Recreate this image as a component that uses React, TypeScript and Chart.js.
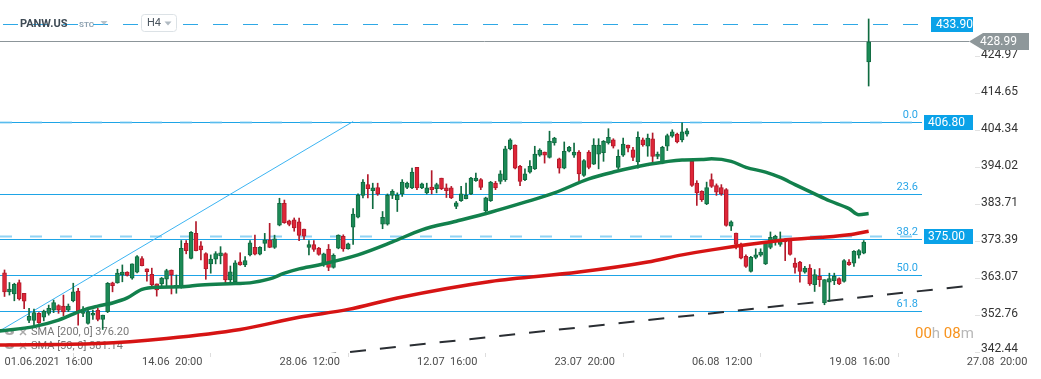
import React, { useEffect, useRef } from 'react';
import { Chart, registerables } from 'chart.js';

Chart.register(...registerables);

// ---------- DATA ----------
const symbol = 'PANW.US';
const symbolType = 'STC';
const interval = 'H4';

// x tick positions are candle indices (H4 candles, 01.06.2021 16:00 = 0)
const xTickIndex = [0, 28, 56, 84, 112, 140, 168, 196];
const xTickLabels = ['01.06.2021  16:00', '14.06  20:00', '28.06  12:00', '12.07  16:00', '23.07  20:00', '06.08  12:00', '19.08  16:00', '27.08  20:00'];
const yTickValues = [342.44, 352.76, 363.07, 373.39, 383.71, 394.02, 404.34, 414.65, 424.97];

const openP = [
  364.6, 359.3, 358.7, 361.9, 358.9, 351.3, 351.3, 353.3, 352.2, 353.3,
  354.2, 355.5, 355.3, 354.2, 356.8, 359.5, 353.3, 350.5, 352.8, 354.2,
  351.6, 353.8, 361.8, 361.8, 364.0, 364.8, 363.1, 364.8, 368.6, 365.7,
  364.2, 361.5, 361.5, 362.8, 365.4, 360.8, 360.7, 372.8, 368.6, 375.6,
  372.1, 370.0, 367.1, 368.4, 369.3, 370.0, 362.6, 362.1, 367.7, 366.8,
  369.6, 371.7, 369.8, 372.8, 373.8, 371.7, 377.9, 384.0, 379.1, 379.4,
  378.8, 376.8, 371.7, 372.5, 371.5, 367.1, 371.2, 366.1, 371.5, 374.8,
  371.3, 377.3, 380.1, 386.2, 389.2, 387.5, 388.4, 378.2, 378.2, 386.2,
  385.0, 386.6, 388.4, 388.3, 394.0, 388.3, 386.9, 388.5, 388.1, 391.0,
  388.3, 388.3, 383.1, 384.7, 385.3, 386.6, 390.3, 390.6, 381.9, 384.7,
  389.6, 390.1, 390.6, 399.2, 400.2, 394.3, 390.6, 392.7, 393.6, 397.4,
  398.3, 396.8, 400.8, 396.4, 393.8, 398.5, 397.4, 398.3, 391.8, 398.3,
  394.9, 397.7, 398.1, 400.8, 401.7, 394.0, 397.4, 400.2, 398.9, 395.5,
  401.7, 399.9, 402.0, 397.1, 395.2, 399.9, 402.7, 403.3, 401.7, 403.3,
  395.7, 389.6, 387.3, 383.8, 390.6, 388.9, 388.4, 387.8, 377.6, 375.7,
  372.6, 369.2, 365.0, 368.9, 369.5, 367.1, 371.7, 373.9, 372.5, 373.8,
  373.6, 367.3, 367.6, 364.8, 365.9, 361.3, 363.6, 356.2, 362.0, 362.4,
  363.0, 362.2, 367.6, 367.3, 369.5, 370.1, 423.4,
];
const highP = [
  365.4, 361.9, 361.7, 362.6, 358.9, 354.7, 354.5, 353.5, 354.2, 355.6,
  357.0, 355.7, 358.4, 355.9, 361.7, 360.3, 355.2, 354.2, 354.2, 354.7,
  352.8, 361.9, 362.0, 365.6, 366.8, 364.9, 367.1, 369.4, 369.1, 365.7,
  365.9, 361.5, 363.3, 365.6, 365.4, 364.0, 373.6, 373.6, 376.1, 378.9,
  373.3, 370.2, 369.6, 370.5, 371.9, 370.2, 366.5, 368.0, 370.2, 369.1,
  373.6, 375.1, 371.9, 375.6, 378.4, 375.1, 385.4, 384.9, 379.3, 379.9,
  379.9, 376.8, 373.6, 373.6, 371.7, 370.1, 372.5, 369.9, 375.2, 375.2,
  372.9, 382.5, 386.6, 390.6, 392.0, 389.6, 389.6, 381.7, 386.6, 387.8,
  386.9, 390.6, 389.9, 393.8, 394.0, 389.6, 389.6, 393.1, 389.6, 391.0,
  389.4, 388.7, 384.5, 388.7, 389.6, 391.2, 392.4, 390.9, 385.7, 390.1,
  390.1, 393.1, 399.9, 402.0, 400.3, 394.6, 393.6, 395.9, 399.9, 399.2,
  398.3, 404.1, 402.4, 396.6, 401.1, 399.9, 400.8, 398.7, 396.2, 398.7,
  402.0, 402.0, 401.5, 404.8, 402.0, 398.9, 402.2, 400.2, 399.6, 403.9,
  402.2, 403.3, 403.6, 398.3, 399.9, 403.3, 404.5, 403.6, 406.4, 404.8,
  395.9, 390.3, 387.5, 389.9, 392.2, 389.4, 389.2, 388.1, 379.1, 375.7,
  372.9, 369.6, 369.2, 371.3, 371.3, 373.4, 376.0, 375.1, 376.0, 374.1,
  373.9, 368.7, 367.8, 366.4, 366.9, 365.5, 365.8, 362.7, 364.5, 364.5,
  363.2, 368.3, 368.3, 370.8, 371.1, 373.6, 435.4,
];
const lowP = [
  358.0, 358.4, 356.8, 357.0, 354.6, 350.7, 349.6, 350.5, 351.2, 352.8,
  353.5, 353.3, 352.6, 353.8, 356.5, 350.0, 352.4, 350.3, 351.6, 351.2,
  348.8, 353.5, 359.3, 361.7, 362.1, 363.7, 362.8, 364.6, 366.5, 362.3,
  361.0, 358.1, 360.7, 360.7, 358.7, 358.9, 360.3, 369.9, 368.5, 370.7,
  368.2, 362.8, 364.5, 367.1, 367.1, 361.5, 361.5, 361.9, 366.7, 366.3,
  369.3, 369.6, 369.6, 370.8, 371.6, 371.4, 377.7, 378.4, 377.7, 376.2,
  373.6, 373.9, 369.6, 370.6, 369.5, 366.4, 365.2, 365.9, 371.3, 370.6,
  371.2, 372.5, 379.9, 385.5, 385.5, 382.5, 386.2, 376.9, 377.9, 385.3,
  381.7, 385.9, 388.1, 388.1, 387.8, 388.1, 386.6, 386.6, 386.9, 387.8,
  385.6, 385.3, 382.5, 384.5, 385.2, 386.4, 390.1, 387.8, 380.8, 384.5,
  387.8, 389.4, 390.1, 398.9, 393.6, 388.9, 390.3, 392.4, 393.4, 397.1,
  395.2, 396.6, 400.2, 392.4, 393.6, 398.3, 396.8, 390.1, 391.5, 393.6,
  394.8, 393.6, 395.7, 400.5, 399.4, 393.6, 397.1, 398.3, 395.9, 393.8,
  399.9, 397.1, 395.5, 396.4, 395.0, 398.7, 402.4, 400.8, 401.1, 402.7,
  388.7, 383.4, 384.5, 383.6, 388.4, 386.2, 386.2, 377.6, 376.4, 371.3,
  368.5, 366.1, 364.8, 368.5, 369.2, 366.9, 371.3, 372.3, 372.0, 368.0,
  369.5, 364.5, 362.0, 364.5, 361.1, 359.4, 360.8, 355.7, 356.6, 361.3,
  361.3, 362.0, 366.7, 366.4, 368.7, 369.9, 416.7,
];
const closeP = [
  359.3, 360.1, 361.4, 357.3, 356.7, 352.5, 353.5, 350.7, 353.9, 354.7,
  356.3, 354.2, 353.7, 355.3, 359.3, 353.8, 353.8, 353.8, 353.3, 351.6,
  352.8, 361.7, 361.0, 364.5, 364.8, 363.9, 367.1, 369.1, 366.6, 364.9,
  361.2, 359.8, 363.1, 365.2, 364.0, 361.0, 371.4, 370.8, 375.9, 370.8,
  371.0, 365.7, 368.4, 370.0, 370.2, 362.6, 364.9, 367.4, 366.8, 368.0,
  373.0, 369.8, 371.7, 373.8, 371.7, 374.1, 384.0, 378.6, 378.1, 377.1,
  375.0, 374.8, 372.5, 371.1, 369.7, 369.9, 366.1, 369.5, 375.1, 371.3,
  372.7, 381.0, 386.2, 389.9, 388.1, 388.3, 386.6, 380.1, 386.2, 387.3,
  386.2, 389.9, 389.6, 392.7, 388.3, 389.4, 388.3, 387.8, 389.2, 388.1,
  387.5, 385.5, 384.1, 386.6, 386.2, 391.0, 391.0, 388.4, 385.5, 389.9,
  388.3, 392.2, 399.2, 401.7, 393.8, 390.1, 392.2, 394.3, 397.7, 398.8,
  397.4, 401.3, 402.2, 393.8, 398.5, 399.6, 398.3, 392.2, 395.9, 394.0,
  400.2, 400.2, 401.3, 402.4, 399.9, 397.1, 400.5, 399.4, 396.8, 402.4,
  400.3, 402.2, 397.1, 397.7, 399.6, 402.9, 403.9, 401.1, 403.9, 404.2,
  389.0, 386.9, 385.0, 388.4, 388.7, 387.1, 386.6, 377.8, 378.8, 372.5,
  368.7, 366.4, 368.9, 369.6, 370.4, 373.2, 374.5, 374.8, 374.1, 373.2,
  369.7, 366.1, 365.0, 365.9, 361.5, 364.1, 362.7, 362.7, 363.0, 363.6,
  361.5, 368.0, 366.9, 370.6, 370.8, 373.2, 428.99,
];

// moving averages: [candle index, value]
const sma50Pts = [
  [-1, 348.4], [6, 349.6], [11, 351.4], [13, 352.5], [16, 354.2], [19, 355.3], [22, 356.2],
  [25, 357.6], [28, 360.0], [31, 360.6], [36, 360.7], [40, 361.2], [47, 361.6], [50, 361.8],
  [54, 362.9], [57, 364.5], [60, 365.7], [64, 366.8], [72, 369.6], [79, 373.2], [85, 376.6],
  [92, 379.0], [99, 381.5], [106, 384.3], [112, 386.9], [119, 390.8], [124, 392.7], [131, 394.8],
  [138, 396.1], [142, 396.2], [144, 396.4], [148, 395.7], [151, 394.0], [155, 392.7], [158, 391.2],
  [161, 389.2], [165, 386.6], [168, 384.7], [172, 382.5], [174, 380.8], [176, 381.14],
];
const sma200Pts = [
  [-1, 344.5], [19, 344.9], [33, 346.3], [48, 348.8], [60, 352.2], [70, 354.4], [80, 357.6],
  [99, 362.2], [117, 364.8], [131, 367.6], [138, 369.6], [144, 371.0], [158, 373.6], [172, 375.2],
  [176, 376.2],
];

// drawing tools
const riseLine = [[-0.92, 348.46], [71, 406.8]];
const supportLine = [[40, 338.1], [200, 361.5]];
const fibLabels = ['0.0', '23.6', '38.2', '50.0', '61.8'];
const fibValues = [406.8, 386.6, 374.0, 364.0, 354.0];
const tagValues = [433.9, 406.8, 375.0];
const lastPrice = 428.99;
const legendRows = ['SMA [200, 0] 376.20', 'SMA [50, 0] 381.14'];
const countdownParts = ['00', 'h', ' 08', 'm'];

// ---------- STYLES ----------
const FONT = 'Roboto, "Noto Sans", sans-serif';
const BLUE = '#1ea4e6';
const GREEN_FILL = '#1b8a56';
const GREEN_EDGE = '#0f6b40';
const RED_FILL = '#de2638';
const RED_EDGE = '#b3192a';
const tagWidths = [42, 49, 49];

function fmt(v: number) {
  return v.toFixed(2);
}

const annotations = {
  id: 'annotations',
  beforeDatasetsDraw(chart: any) {
    const { ctx, chartArea: a, scales } = chart;
    const y = scales.y;
    ctx.save();

    // legend rows (lines draw over them)
    ctx.font = `11px ${FONT}`;
    ctx.textBaseline = 'middle';
    legendRows.forEach((txt, k) => {
      const ly = 332 + k * 14;
      ctx.fillStyle = '#a9a9a9';
      ctx.beginPath();
      ctx.ellipse(a.left + 9.5, ly, 4.5, 3, 0, 0, Math.PI * 2);
      ctx.fill();
      ctx.fillStyle = '#ffffff';
      ctx.beginPath();
      ctx.arc(a.left + 9.5, ly, 1.3, 0, Math.PI * 2);
      ctx.fill();
      ctx.strokeStyle = '#a9a9a9';
      ctx.lineWidth = 1.5;
      ctx.beginPath();
      ctx.moveTo(a.left + 20, ly - 3);
      ctx.lineTo(a.left + 26, ly + 3);
      ctx.moveTo(a.left + 26, ly - 3);
      ctx.lineTo(a.left + 20, ly + 3);
      ctx.stroke();
      ctx.fillStyle = '#777777';
      ctx.textAlign = 'left';
      ctx.fillText(txt, a.left + 31, ly);
    });

    // fibonacci lines
    const fibEnd = a.right - 53;
    ctx.setLineDash([]);
    ctx.lineWidth = 1;
    ctx.strokeStyle = BLUE;
    ctx.font = `11px ${FONT}`;
    ctx.textAlign = 'right';
    ctx.textBaseline = 'alphabetic';
    fibValues.forEach((v, k) => {
      const py = Math.round(y.getPixelForValue(v)) + 0.5;
      ctx.beginPath();
      ctx.moveTo(a.left, py);
      ctx.lineTo(fibEnd, py);
      ctx.stroke();
      ctx.fillStyle = '#2aa6e8';
      ctx.fillText(fibLabels[k], fibEnd - 4, py - 4.5);
    });

    // last price line
    const lp = Math.floor(y.getPixelForValue(lastPrice)) + 0.5;
    ctx.strokeStyle = '#8c9599';
    ctx.beginPath();
    ctx.moveTo(a.left, lp);
    ctx.lineTo(a.right - 6, lp);
    ctx.stroke();

    // dashed price level lines
    tagValues.forEach((v, k) => {
      const py = Math.round(y.getPixelForValue(v)) + 0.5;
      const left = a.right - 2 - tagWidths[k];
      if (k === 0) {
        ctx.strokeStyle = '#2ea8e6';
        ctx.lineWidth = 1;
        ctx.setLineDash([15, 15]);
        ctx.lineDashOffset = -3;
      } else {
        ctx.strokeStyle = 'rgba(110,196,240,0.75)';
        ctx.lineWidth = 2;
        ctx.setLineDash([12, 18]);
        ctx.lineDashOffset = 0;
      }
      ctx.beginPath();
      ctx.moveTo(a.left, py);
      ctx.lineTo(left - 1, py);
      ctx.stroke();
    });
    ctx.setLineDash([]);
    ctx.restore();
  },
  afterDraw(chart: any) {
    const { ctx, chartArea: a, scales } = chart;
    const y = scales.y;
    ctx.save();

    // y tick labels
    ctx.font = `12px ${FONT}`;
    ctx.fillStyle = '#333333';
    ctx.textAlign = 'left';
    ctx.textBaseline = 'middle';
    yTickValues.forEach((v) => {
      const py = Math.min(y.getPixelForValue(v) - 1, a.bottom - 4.5);
      ctx.fillText(fmt(v), a.right + 6, py);
    });

    // level tags
    tagValues.forEach((v, k) => {
      const py = y.getPixelForValue(v);
      const right = a.right - 2;
      const left = right - tagWidths[k];
      ctx.fillStyle = '#0aa2e8';
      ctx.fillRect(left, Math.round(py) - 7, right - left, 15);
      ctx.fillStyle = '#ffffff';
      ctx.font = `12px ${FONT}`;
      ctx.textAlign = 'left';
      ctx.fillText(fmt(v), left + (k === 0 ? 5 : 4), Math.round(py) + 0.5);
    });

    // current price tag
    const lp = Math.floor(y.getPixelForValue(lastPrice)) + 0.5;
    ctx.fillStyle = '#8e979a';
    ctx.beginPath();
    ctx.moveTo(a.right - 6, lp);
    ctx.lineTo(a.right + 8, lp - 8.5);
    ctx.lineTo(a.right + 54, lp - 8.5);
    ctx.lineTo(a.right + 54, lp + 8.5);
    ctx.lineTo(a.right + 8, lp + 8.5);
    ctx.closePath();
    ctx.fill();
    ctx.fillStyle = '#ffffff';
    ctx.font = `12px ${FONT}`;
    ctx.fillText(fmt(lastPrice), a.right + 5, lp);

    // countdown
    ctx.font = `15px ${FONT}`;
    let cx = a.right - 60;
    countdownParts.forEach((p, k) => {
      ctx.fillStyle = k % 2 === 0 ? '#f7931e' : '#b8b8b8';
      ctx.fillText(p, cx, 334);
      cx += ctx.measureText(p).width;
    });

    // header
    ctx.font = `bold 11px ${FONT}`;
    ctx.fillStyle = '#3e4a54';
    ctx.fillText(symbol, 20, 24);
    ctx.font = `bold 8px ${FONT}`;
    ctx.fillStyle = '#8ea2b1';
    ctx.fillText(symbolType, 79, 24.5);
    ctx.fillStyle = '#b8c3cb';
    ctx.beginPath();
    ctx.moveTo(100.5, 21);
    ctx.lineTo(107.5, 21);
    ctx.lineTo(104, 25);
    ctx.closePath();
    ctx.fill();
    // interval box
    ctx.fillStyle = '#ffffff';
    ctx.strokeStyle = '#dce2e6';
    ctx.lineWidth = 1;
    ctx.beginPath();
    (ctx as any).roundRect(141.5, 14.5, 35, 17, 3);
    ctx.fill();
    ctx.stroke();
    ctx.font = `11px ${FONT}`;
    ctx.fillStyle = '#4a545e';
    ctx.fillText(interval, 147, 23.5);
    ctx.fillStyle = '#b0bac2';
    ctx.beginPath();
    ctx.moveTo(164.5, 21.5);
    ctx.lineTo(171.5, 21.5);
    ctx.lineTo(168, 25.5);
    ctx.closePath();
    ctx.fill();

    ctx.restore();
  },
};

export default function App() {
  const ref = useRef<HTMLCanvasElement | null>(null);

  useEffect(() => {
    if (!ref.current) return;
    const idx = openP.map((_, i) => i);
    const up = idx.map((i) => closeP[i] >= openP[i]);
    const chart = new Chart(ref.current, {
      type: 'bar',
      data: {
        datasets: [
          {
            type: 'line',
            label: 'SMA 50',
            data: sma50Pts.map(([x, v]) => ({ x, y: v })),
            borderColor: '#12804c',
            borderWidth: 3.5,
            pointRadius: 0,
            cubicInterpolationMode: 'monotone',
            order: 0,
          } as any,
          {
            type: 'line',
            label: 'SMA 200',
            data: sma200Pts.map(([x, v]) => ({ x, y: v })),
            borderColor: '#d61414',
            borderWidth: 3.5,
            pointRadius: 0,
            cubicInterpolationMode: 'monotone',
            order: 0,
          } as any,
          {
            type: 'line',
            label: 'rise',
            data: riseLine.map(([x, v]) => ({ x, y: v })),
            borderColor: '#3cb4f2',
            borderWidth: 1,
            pointRadius: 0,
            order: 3,
          } as any,
          {
            type: 'line',
            label: 'support',
            data: supportLine.map(([x, v]) => ({ x, y: v })),
            borderColor: '#2a2e33',
            borderWidth: 2,
            borderDash: [16, 14],
            pointRadius: 0,
            order: 3,
          } as any,
          {
            label: 'bodies',
            data: idx.map((i) => ({ x: i, y: [openP[i], closeP[i]] })),
            backgroundColor: up.map((u) => (u ? GREEN_FILL : RED_FILL)),
            borderColor: up.map((u) => (u ? GREEN_EDGE : RED_EDGE)),
            borderWidth: 1,
            borderSkipped: false,
            barThickness: 4,
            minBarLength: 1,
            grouped: false,
            order: 1,
          } as any,
          {
            label: 'wicks',
            data: idx.map((i) => ({ x: i, y: [lowP[i], highP[i]] })),
            backgroundColor: up.map((u) => (u ? GREEN_EDGE : RED_EDGE)),
            borderWidth: 0,
            barThickness: 1,
            grouped: false,
            order: 2,
          } as any,
        ],
      },
      options: {
        animation: false,
        responsive: false,
        devicePixelRatio: 1,
        layout: { padding: 0 },
        plugins: { legend: { display: false }, tooltip: { enabled: false } },
        scales: {
          x: {
            type: 'linear',
            min: -0.92,
            max: 197.66,
            offset: false,
            grid: { drawOnChartArea: false, drawTicks: true, tickLength: 4, color: '#dddddd' },
            border: { display: false },
            afterBuildTicks: (s: any) => {
              s.ticks = xTickIndex.map((v) => ({ value: v }));
            },
            afterFit: (s: any) => {
              s.height = 26;
            },
            ticks: {
              autoSkip: false,
              maxRotation: 0,
              align: 'start',
              padding: -1,
              color: '#4d4d4d',
              font: { family: FONT, size: 11 },
              callback: (v: any) => {
                const k = xTickIndex.indexOf(Number(v));
                return k >= 0 ? xTickLabels[k] : '';
              },
            },
          },
          y: {
            position: 'right',
            min: 342.24,
            max: 440.69,
            grid: { drawOnChartArea: false, drawTicks: true, tickLength: 5, color: '#e2e2e2' },
            border: { display: false },
            afterBuildTicks: (s: any) => {
              s.ticks = yTickValues.map((v) => ({ value: v }));
            },
            afterFit: (s: any) => {
              s.width = 66;
            },
            ticks: { display: false },
          },
        },
      } as any,
      plugins: [annotations],
    });
    return () => chart.destroy();
  }, []);

  return (
    <div style={{ position: 'absolute', left: 0, top: 0, width: 1041, height: 379, background: '#ffffff' }}>
      <canvas ref={ref} width={1041} height={379} style={{ display: 'block' }} />
    </div>
  );
}
